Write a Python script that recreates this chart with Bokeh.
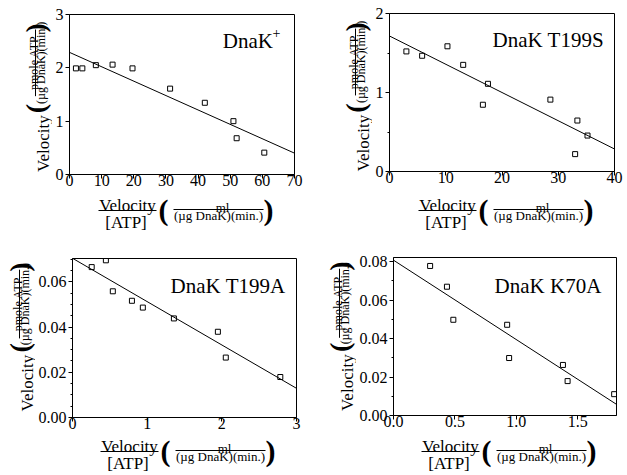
import math
from bokeh.plotting import figure
from bokeh.models import Range1d, FixedTicker, NumeralTickFormatter, Label, Arrow
from bokeh.layouts import column, row
from bokeh.embed import file_html
from bokeh.resources import INLINE

SERIF = "Liberation Serif"

# ---------------- data ----------------
# Panel A: DnaK+
wt_x = [2.0, 4.0, 8.2, 13.4, 19.6, 31.3, 42.1, 51.0, 52.0, 60.6]
wt_y = [1.99, 1.99, 2.05, 2.06, 1.99, 1.61, 1.345, 1.00, 0.68, 0.41]
wt_fit_x = [0, 70]
wt_fit_y = [2.29, 0.40]

# Panel B: DnaK T199S
t199s_x = [3.0, 5.8, 10.3, 13.1, 17.5, 16.6, 28.6, 33.4, 35.2, 33.0]
t199s_y = [1.52, 1.465, 1.585, 1.35, 1.11, 0.845, 0.91, 0.645, 0.455, 0.22]
t199s_fit_x = [0, 40]
t199s_fit_y = [1.715, 0.285]

# Panel C: DnaK T199A
t199a_x = [0.257, 0.447, 0.54, 0.796, 0.942, 1.358, 1.947, 2.053, 2.783]
t199a_y = [0.0665, 0.0695, 0.0558, 0.0516, 0.0486, 0.0438, 0.0379, 0.0265, 0.0179]
t199a_fit_x = [0, 3]
t199a_fit_y = [0.0704, 0.0129]

# Panel D: DnaK K70A
k70a_x = [0.298, 0.435, 0.487, 0.925, 0.941, 1.379, 1.417, 1.796]
k70a_y = [0.0778, 0.0670, 0.0498, 0.0472, 0.0299, 0.0263, 0.0179, 0.0111]
k70a_fit_x = [0, 1.815]
k70a_fit_y = [0.0808, 0.0058]

# ticks
wt_xticks = [0, 10, 20, 30, 40, 50, 60, 70]
wt_yticks = [0, 1, 2, 3]
t199s_xticks = [0, 10, 20, 30, 40]
t199s_yticks = [0, 1, 2]
t199s_yminor = [0.5, 1.5]
t199a_xticks = [0, 1, 2, 3]
t199a_yticks = [0, 0.02, 0.04, 0.06]
t199a_yminor = [0.005, 0.01, 0.015, 0.025, 0.03, 0.035, 0.045, 0.05, 0.055, 0.065, 0.07]
k70a_xticks = [0, 0.5, 1.0, 1.5]
k70a_yticks = [0, 0.02, 0.04, 0.06, 0.08]
k70a_yminor = [0.01, 0.03, 0.05, 0.07]

titles = ["DnaK", "DnaK T199S", "DnaK T199A", "DnaK K70A"]
y_num = "pmole ATP"
unit_den = "(\u00b5g DnaK)(min.)"
x_num = "ml"


def make_plot(W, H, mbl, mbr, mbt, mbb, xr, yr, xt, yt, xfmt, yfmt, yminor=None):
    p = figure(width=W, height=H, x_range=Range1d(*xr), y_range=Range1d(*yr),
               output_backend="svg", toolbar_location=None, title=None,
               min_border_left=mbl, min_border_right=mbr,
               min_border_top=mbt, min_border_bottom=mbb)
    p.xgrid.visible = False
    p.ygrid.visible = False
    p.outline_line_color = "black"
    p.outline_line_alpha = 1.0
    p.outline_line_width = 1
    p.background_fill_color = "white"
    p.border_fill_color = "white"
    p.xaxis.ticker = FixedTicker(ticks=xt)
    p.yaxis.ticker = FixedTicker(ticks=yt, minor_ticks=yminor or [])
    p.xaxis.formatter = NumeralTickFormatter(format=xfmt)
    p.yaxis.formatter = NumeralTickFormatter(format=yfmt)
    for ax in (p.xaxis[0], p.yaxis[0]):
        ax.axis_line_color = "black"
        ax.major_tick_line_color = "black"
        ax.minor_tick_line_color = "black"
        ax.major_tick_out = 4
        ax.major_tick_in = 0
        ax.minor_tick_out = 2
        ax.minor_tick_in = 0
        ax.major_label_text_font = SERIF
        ax.major_label_text_font_size = "16px"
        ax.major_label_text_color = "black"
    p.xaxis.major_label_standoff = -4
    p.yaxis.major_label_standoff = 2
    geom = dict(fw=W - mbl - mbr, fh=H - mbt - mbb, xr=xr, yr=yr)
    return p, geom


def at(g, dx, dy):
    x0, x1 = g["xr"]
    y0, y1 = g["yr"]
    return (x0 + dx * (x1 - x0) / g["fw"], y1 - dy * (y1 - y0) / g["fh"])


def mklabel(x, y, text, size, angle=0.0, align="center", baseline="alphabetic", bold=False):
    return Label(x=x, y=y, text=text, text_font=SERIF, text_font_size=f"{size}px",
                 text_align=align, text_baseline=baseline, angle=angle,
                 text_color="black", text_font_style="bold" if bold else "normal")


def title_txt(p, g, dx, dy, text, size):
    x, y = at(g, dx, dy)
    p.add_layout(mklabel(x, y, text, size, align="left"))


def draw(p, xs, ys, fx, fy):
    p.line(fx, fy, line_color="black", line_width=1)
    p.scatter(xs, ys, marker="square", size=5, fill_color=None,
              line_color="black", line_width=1)


# ---- blank label canvases: one data unit = one pixel, page coordinates ----
def blank(ox, oy, w, h):
    f = figure(width=w, height=h, x_range=Range1d(0, w), y_range=Range1d(0, h),
               x_axis_type=None, y_axis_type=None, output_backend="svg",
               toolbar_location=None, title=None, min_border=0)
    f.outline_line_color = None
    f.background_fill_color = "white"
    f.border_fill_color = "white"
    return dict(fig=f, ox=ox, oy=oy, h=h)


def ptxt(lab, px, py, text, size, angle=0.0, align="center", baseline="alphabetic", bold=False):
    lab["fig"].add_layout(mklabel(px - lab["ox"], lab["h"] - (py - lab["oy"]), text, size,
                                  angle=angle, align=align, baseline=baseline, bold=bold))


def pbar(lab, px0, py0, px1, py1):
    o, h = lab["ox"], lab["h"]
    oy = lab["oy"]
    lab["fig"].add_layout(Arrow(start=None, end=None,
                                x_start=px0 - o, y_start=h - (py0 - oy),
                                x_end=px1 - o, y_end=h - (py1 - oy),
                                line_color="black", line_width=1))


def xlabel(lab, fl, vb):
    # fl: frame left (page px); vb: baseline of "Velocity" (page px)
    v = fl + 59
    ptxt(lab, v, vb, "Velocity", 17)
    pbar(lab, v - 29, vb + 5, v + 29, vb + 5)
    ptxt(lab, v - 1.5, vb + 17, "[ATP]", 17)
    ptxt(lab, v + 36, vb + 4, "(", 30, baseline="middle", bold=True)
    ptxt(lab, v + 95, vb + 2, x_num, 13)
    pbar(lab, v + 46, vb + 4, v + 136, vb + 4)
    ptxt(lab, v + 91, vb + 10, unit_den, 13)
    ptxt(lab, v + 141, vb + 4, ")", 30, baseline="middle", bold=True)


def ylabel(lab, B, vc, pc, fc, cc):
    # B: baseline x of rotated "Velocity"; vc/pc/fc/cc: centres (page y)
    a = math.pi / 2
    ptxt(lab, B, vc, "Velocity", 17, angle=a)
    ptxt(lab, B - 8, pc, "(", 28, angle=a, baseline="middle", bold=True)
    pbar(lab, B - 8, fc + 40, B - 8, fc - 40)
    ptxt(lab, B - 10, fc, y_num, 12, angle=a)
    ptxt(lab, B - 2.5, fc, unit_den, 12, angle=a)
    ptxt(lab, B - 8, cc, ")", 28, angle=a, baseline="middle", bold=True)


# layout origin is the page's top-left pixel
# ---------------- Panel A (top-left) ----------------
pA, gA = make_plot(276, 192, 16, 34, 14, 18, (0, 70), (0, 3), wt_xticks, wt_yticks, "0", "0")
draw(pA, wt_x, wt_y, wt_fit_x, wt_fit_y)
title_txt(pA, gA, 154, 26, titles[0], 21)
title_txt(pA, gA, 204, 18.5, "+", 14)
ylA = blank(0, 0, 52, 192)
ylabel(ylA, 43, 155, 113, 58, 16)
xlA = blank(0, 192, 328, 58)
xlabel(xlA, 68, 205)

# ---------------- Panel B (top-right) ----------------
pB, gB = make_plot(252, 189, 16, 10, 13, 18, (0, 40), (0, 2), t199s_xticks, t199s_yticks, "0", "0",
                   yminor=t199s_yminor)
draw(pB, t199s_x, t199s_y, t199s_fit_x, t199s_fit_y)
title_txt(pB, gB, 103.5, 26, titles[1], 21)
ylB = blank(328, 0, 44, 189)
ylabel(ylB, 363, 155, 113, 58, 16)
xlB = blank(328, 189, 296, 61)
xlabel(xlB, 388, 205)

# ---------------- Panel C (bottom-left) ----------------
pC, gC = make_plot(293, 185, 35, 32, 8, 18, (0, 3), (0, 0.0703), t199a_xticks, t199a_yticks, "0", "0.00",
                   yminor=t199a_yminor)
draw(pC, t199a_x, t199a_y, t199a_fit_x, t199a_fit_y)
title_txt(pC, gC, 99, 27, titles[2], 21)
ylC = blank(0, 250, 35, 185)
ylabel(ylC, 27, 395, 354, 303, 260)
xlC = blank(0, 435, 328, 40)
xlabel(xlC, 70, 446)

# ---------------- Panel D (bottom-right) ----------------
pD, gD = make_plot(268, 183, 35, 8, 7, 18, (0, 1.815), (0, 0.0822), k70a_xticks, k70a_yticks, "0.0", "0.00",
                   yminor=k70a_yminor)
draw(pD, k70a_x, k70a_y, k70a_fit_x, k70a_fit_y)
title_txt(pD, gD, 102, 28, titles[3], 21)
ylD = blank(328, 250, 28, 183)
ylabel(ylD, 347, 395, 354, 303, 260)
xlD = blank(328, 433, 296, 42)
xlabel(xlD, 391, 446)

panelA = column(row(ylA["fig"], pA), xlA["fig"])
panelB = column(row(ylB["fig"], pB), xlB["fig"])
panelC = column(row(ylC["fig"], pC), xlC["fig"])
panelD = column(row(ylD["fig"], pD), xlD["fig"])
layout = column(row(panelA, panelB), row(panelC, panelD))
open("out.html", "w").write(file_html(layout, INLINE))
